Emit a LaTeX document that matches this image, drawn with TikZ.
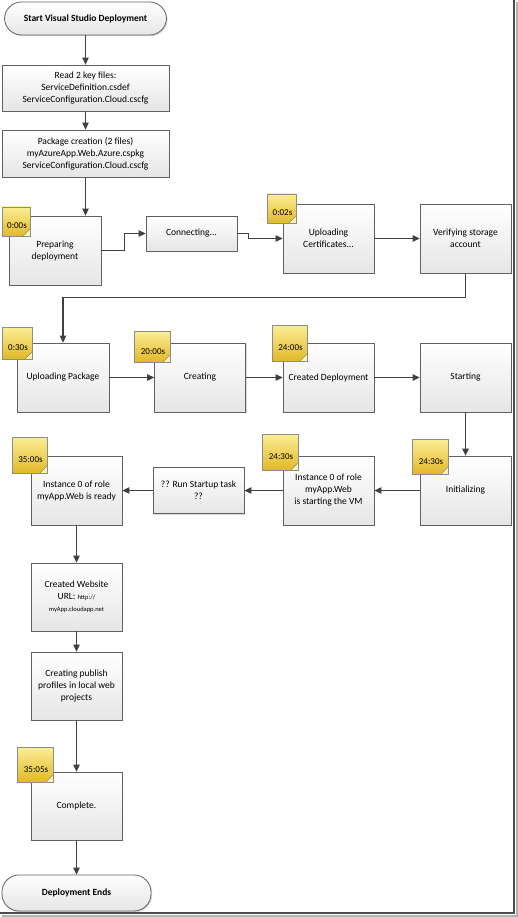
\documentclass[tikz,border=0pt]{standalone}
\usepackage{fontspec}
\setmainfont{Carlito}
\usetikzlibrary{arrows.meta,shadows}
\colorlet{colorLN}{black!75}
\colorlet{colorBOX}{black!62}
\definecolor{colorNT}{RGB}{251,238,150}
\definecolor{colorNB}{RGB}{226,184,40}
\colorlet{colorNL}{black!45}
\tikzset{
   every path/.style={>={Triangle[length=7pt,width=6.5pt]}},
   every node/.style={font=\fontsize{9.5}{12}\selectfont, align=center},
   box/.style={rectangle,draw=colorBOX,line width=0.8pt,top color=white,bottom color=black!10,
      minimum width=91pt,minimum height=69pt,inner sep=2pt,
      drop shadow={shadow xshift=1.2pt,shadow yshift=-1.2pt,opacity=0.3}},
   term/.style={box,rounded corners=17pt,font=\bfseries\fontsize{9.5}{12}\selectfont},
   note/.style={rectangle,draw=colorNL,line width=0.6pt,top color=colorNT,bottom color=colorNB,
      minimum width=30pt,minimum height=30pt,inner sep=0pt,
      font=\fontsize{9}{11}\selectfont,
      drop shadow={shadow xshift=1pt,shadow yshift=-1pt,opacity=0.3},
      path picture={
         \fill[colorNT!70!white] (path picture bounding box.south east) -- ++(-7pt,0) -- ++(7pt,7pt) -- cycle;
         \draw[colorNL] ([xshift=-7pt]path picture bounding box.south east) -- ([yshift=7pt]path picture bounding box.south east);}},
   flow/.style={->,color=colorLN,line width=1.3pt},
   frm/.style={line width=1.6pt,color=black!70},
}
\newcommand{\smallurl}[1]{{\fontsize{6.5}{8}\selectfont #1}}
\newcommand{\tm}[1]{\raisebox{-7.5pt}[0pt][0pt]{\hspace*{2pt}#1}}

\begin{document}
\begin{tikzpicture}[x=1pt,y=-1pt]
      \useasboundingbox (0,0) rectangle (518,917);

      % page frame
      \draw[frm,black!30,line width=2pt] (516.5,2) -- (516.5,915.5) -- (2,915.5);
      \draw[frm] (514,0) -- (514,913) -- (0,913);

      \node (start) [term, minimum width=162pt, minimum height=33pt]
        at (85.5,18.5)
        {Start Visual Studio Deployment};

      \node (rd) [box, below of = start, node distance = 69.5pt, minimum width=167pt, minimum height=46pt]
        {Read 2 key files:\\ServiceDefinition.csdef\\ServiceConfiguration.Cloud.cscfg};

      \node (pkg) [box, below of = rd, node distance = 65.5pt, minimum width=167pt, minimum height=47pt]
        {Package creation (2 files)\\myAzureApp.Web.Azure.cspkg\\ServiceConfiguration.Cloud.cscfg};

      % first row
      \node (prep) [box, minimum width=92pt]
        at (55,250.5)
        {Preparing\\deployment};

      \node (conn) [box, minimum height=35pt]
        at (191.5,233.5)
        {Connecting...};

      \node (upc) [box]
        at (328.5,238.5)
        {Uploading\\Certificates...};

      \node (ver) [box, right of = upc, node distance = 137pt]
        {Verifying storage\\account};

      % second row
      \node (upp) [box, minimum width=92pt]
        at (63,377.5)
        {Uploading Package};

      \node (cre) [box, right of = upp, node distance = 137pt]
        {Creating};

      \node (crd) [box, right of = cre, node distance = 128.5pt]
        {Created Deployment};

      \node (sta) [box, right of = crd, node distance = 137pt]
        {Starting};

      % third row, right to left
      \node (ini) [box, below of = sta, node distance = 113pt]
        {Initializing};

      \node (vm) [box, left of = ini, node distance = 137pt]
        {Instance 0 of role\\myApp.Web\\is starting the VM};

      \node (rst) [box, left of = vm, node distance = 130pt, minimum height=46pt]
        {?? Run Startup task\\??};

      \node (rdy) [box, left of = rst, node distance = 122pt]
        {Instance 0 of role\\myApp.Web is ready};

      % down to the end
      \node (web) [box, below of = rdy, node distance = 106.5pt, minimum height=68pt]
        {Created Website\\URL: \smallurl{http://}\\\smallurl{myApp.cloudapp.net}};

      \node (pub) [box, below of = web, node distance = 89pt, minimum height=68pt]
        {Creating publish\\profiles in local web\\projects};

      \node (cmp) [box, below of = pub, node distance = 120pt, minimum height=68pt]
        {Complete.};

      \node (fin) [term, below of = cmp, node distance = 87pt, minimum width=149pt, minimum height=36pt]
        {Deployment Ends};

      % timings
      \node (ta) [note, minimum width=28pt, minimum height=29pt] at (16,221.5) {\tm{0:00s}};
      \node (tb) [note, minimum width=29pt, minimum height=29pt] at (281.5,208.5) {\tm{0:02s}};
      \node (tc) [note, minimum height=32pt] at (17,343) {\tm{0:30s}};
      \node (td) [note, minimum width=36pt, minimum height=31pt] at (152,346.5) {\tm{20:00s}};
      \node (te) [note, minimum width=35pt, minimum height=36pt] at (289.5,343) {\tm{24:00s}};
      \node (tf) [note, minimum width=36pt, minimum height=35pt] at (430,456.5) {\tm{24:30s}};
      \node (tg) [note, minimum width=36pt, minimum height=36pt] at (280,452) {\tm{24:30s}};
      \node (th) [note, minimum width=35pt, minimum height=36pt] at (29.5,455) {\tm{35:00s}};
      \node (ti) [note, minimum width=36pt, minimum height=35pt] at (35,764.5) {\tm{35:05s}};

      \draw[flow] (start) -- (rd);
      \draw[flow] (rd) -- (pkg);
      \draw[flow] (pkg.south) -- (pkg.south |- prep.north);
      \draw[flow] (prep.east) -- ++(23,0) |- (conn.west);
      \draw[flow] (conn.east) -- ++(11,0) |- (upc.west);
      \draw[flow] (upc) -- (ver);
      \draw[flow] (ver.south) -- ++(0,24) -| (upp.north);
      \draw[flow] (upp) -- (cre);
      \draw[flow] (cre) -- (crd);
      \draw[flow] (crd) -- (sta);
      \draw[flow] (sta) -- (ini);
      \draw[flow] (ini) -- (vm);
      \draw[flow] (vm) -- (rst);
      \draw[flow] (rst) -- (rdy);
      \draw[flow] (rdy) -- (web);
      \draw[flow] (web) -- (pub);
      \draw[flow] (pub) -- (cmp);
      \draw[flow] (cmp) -- (fin);
\end{tikzpicture}
\end{document}
